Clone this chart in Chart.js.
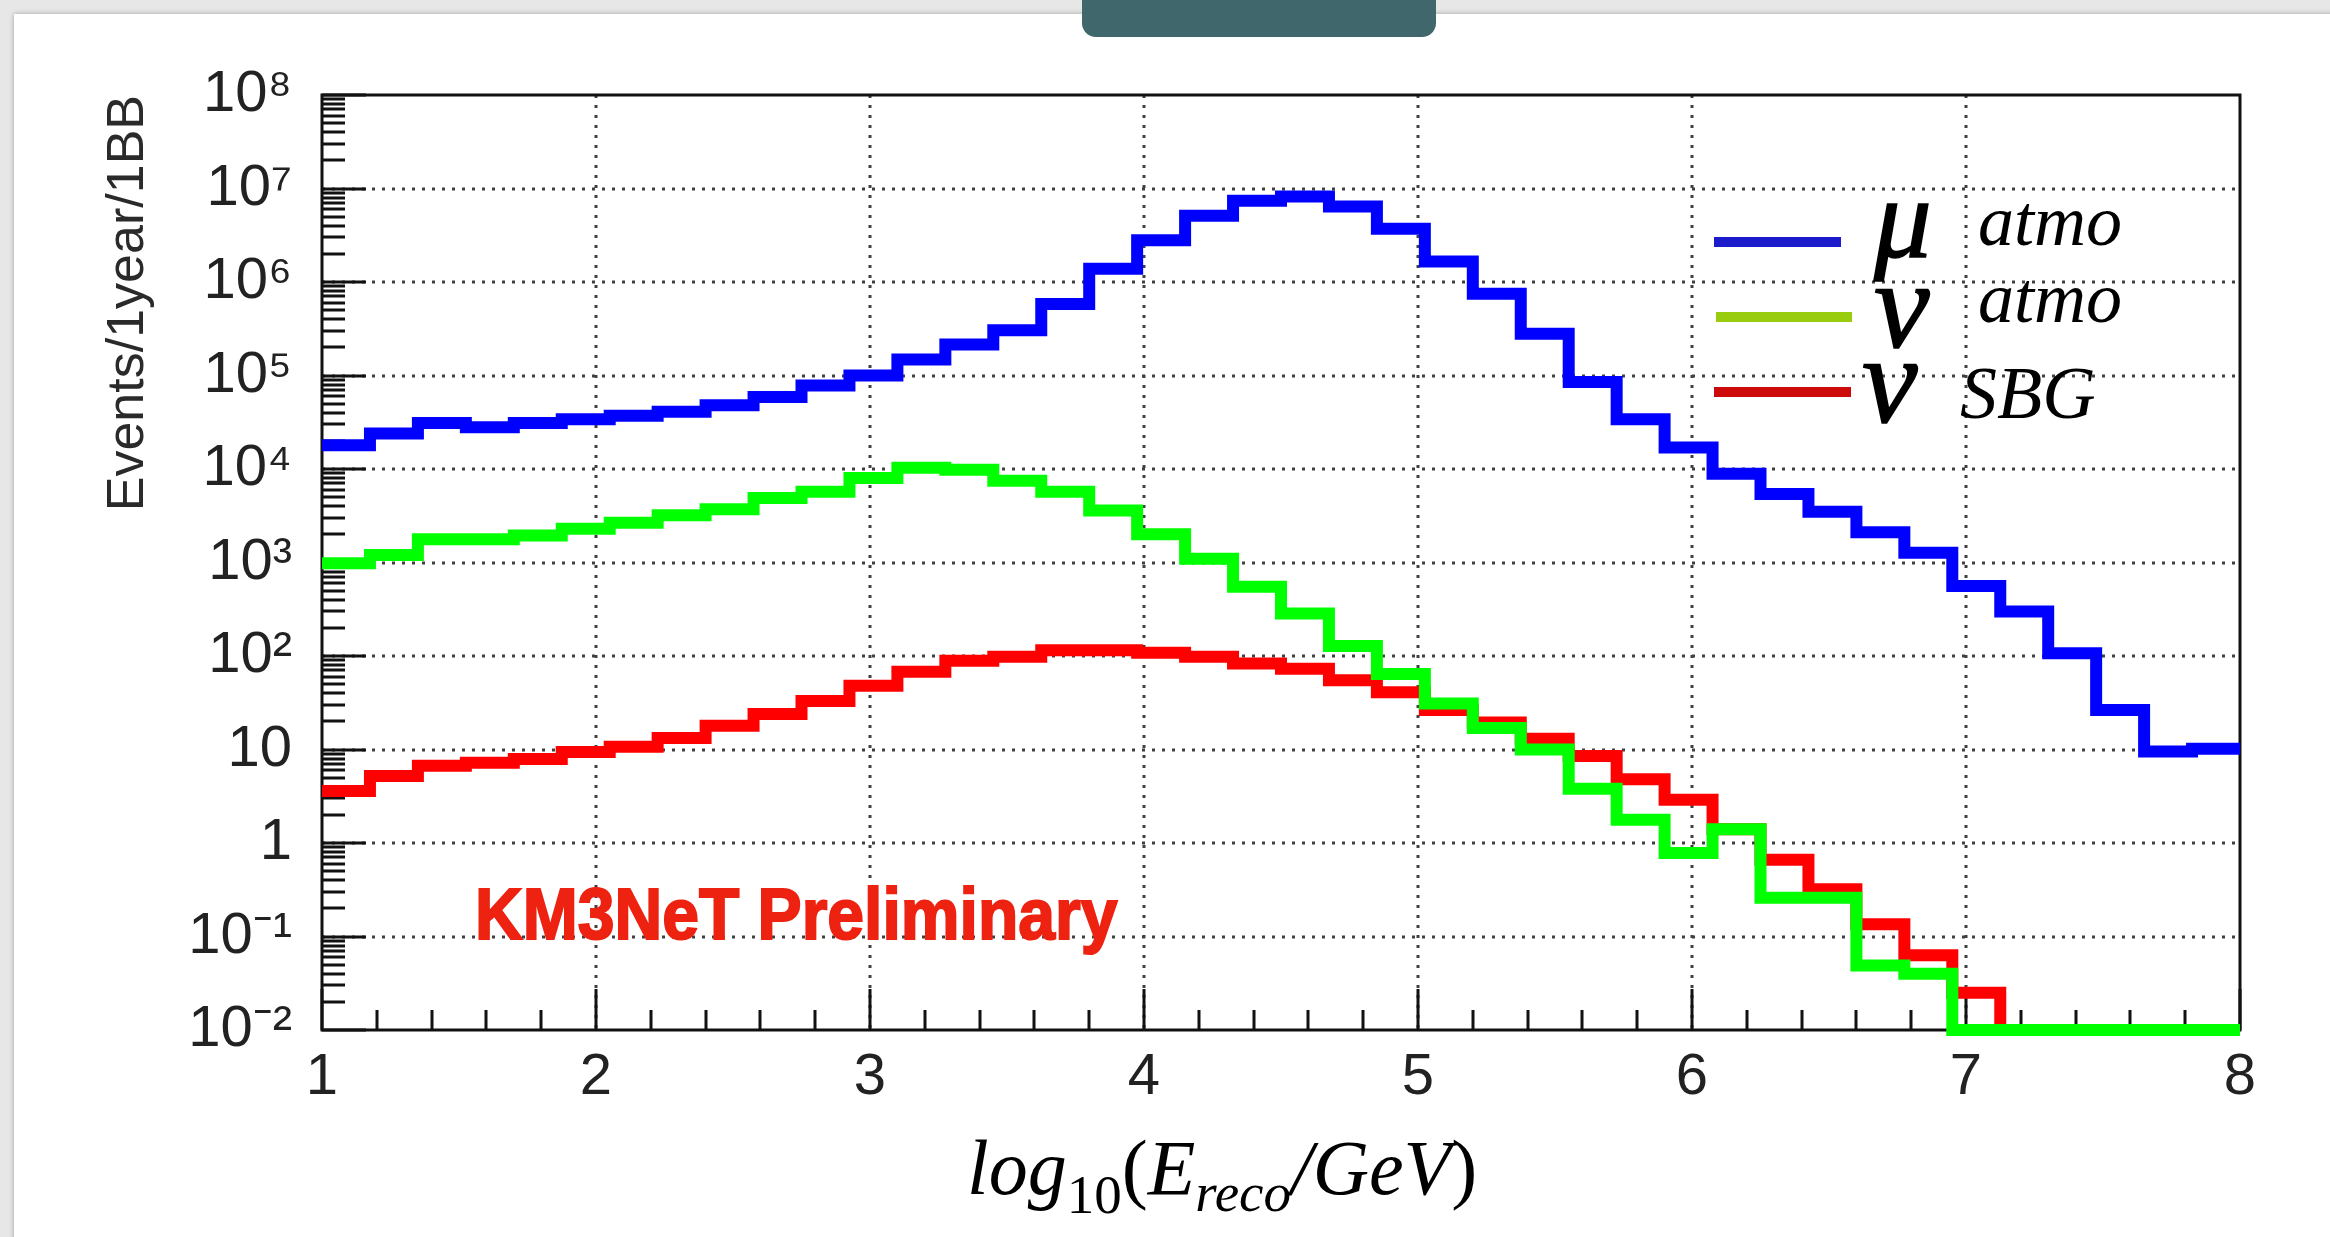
<!DOCTYPE html>
<html>
<head>
<meta charset="utf-8">
<script src="https://cdn.jsdelivr.net/npm/chart.js@4.4.1/dist/chart.umd.min.js"></script>
<style>
  html, body { margin: 0; padding: 0; }
  body { width: 2330px; height: 1237px; background: #e7e7e7; position: relative; overflow: hidden; }
  #card { position: absolute; left: 14px; top: 14px; right: -20px; bottom: -20px; background: #fff; box-shadow: 0 0 5px rgba(0,0,0,0.3); }
  #tab { position: absolute; left: 1082px; top: -8px; width: 354px; height: 45px; background: #40676c; border-radius: 0 0 14px 14px; }
  #chart { position: absolute; left: 0; top: 0; }
  #overlay { position: absolute; left: 0; top: 0; }
</style>
</head>
<body>
<div id="card"></div>
<div id="tab"></div>
<canvas id="chart" width="2330" height="1237"></canvas>
<svg id="overlay" width="2330" height="1237" xmlns="http://www.w3.org/2000/svg">
  <!-- legend -->
  <rect x="1714" y="237" width="127" height="10" fill="#1c1ccc"/>
  <rect x="1716" y="312" width="136" height="10" fill="#99cc0e"/>
  <rect x="1714" y="387" width="137" height="10" fill="#cc0a0a"/>
  <g font-family="Liberation Serif, DejaVu Serif, serif" font-style="italic" fill="#000">
    <text x="1874" y="257" font-size="115" stroke="#000" stroke-width="1.5">μ</text>
    <text x="1978" y="245" font-size="72">atmo</text>
    <text x="1874" y="347" font-size="125" stroke="#000" stroke-width="1.5">ν</text>
    <text x="1978" y="322" font-size="72">atmo</text>
    <text x="1862" y="422" font-size="125" stroke="#000" stroke-width="1.5">ν</text>
    <text x="1960" y="418" font-size="74">SBG</text>
  </g>
  <text transform="translate(475,939) scale(0.905,1)" font-family="Liberation Sans, Arial, sans-serif" font-weight="bold" font-size="73" fill="#ee2211" stroke="#ee2211" stroke-width="2">KM3NeT Preliminary</text>
  <!-- x axis title -->
  <text x="967" y="1194" font-family="Liberation Serif, DejaVu Serif, serif" font-size="78" fill="#000"><tspan font-style="italic">log</tspan><tspan font-size="55" dy="19">10</tspan><tspan dy="-19">(</tspan><tspan font-style="italic">E</tspan><tspan font-style="italic" font-size="55" dy="17">reco</tspan><tspan font-style="italic" dy="-17">/GeV</tspan><tspan>)</tspan></text>
</svg>

<script>
// bin edges in log10(E/GeV), 40 bins
const binEdges = [1, 1.175, 1.35, 1.525, 1.7, 1.875, 2.05, 2.225, 2.4, 2.575,
  2.75, 2.925, 3.1, 3.275, 3.45, 3.625, 3.8, 3.975, 4.15, 4.325,
  4.5, 4.675, 4.85, 5.025, 5.2, 5.375, 5.55, 5.725, 5.9, 6.075,
  6.25, 6.425, 6.6, 6.775, 6.95, 7.125, 7.3, 7.475, 7.65, 7.825, 8];

// events per bin
const muAtmo = [1.8e4, 2.4e4, 3.1e4, 2.8e4, 3.1e4, 3.4e4, 3.7e4, 4.1e4, 4.8e4, 5.9e4,
  7.8e4, 1.0e5, 1.48e5, 2.15e5, 3.05e5, 5.8e5, 1.39e6, 2.8e6, 5.1e6, 7.4e6,
  8.2e6, 6.4e6, 3.7e6, 1.66e6, 7.5e5, 2.8e5, 8.5e4, 3.4e4, 1.7e4, 8.9e3,
  5.4e3, 3.5e3, 2.1e3, 1.27e3, 560, 300, 107, 26.5, 9.5, 10.2];
const nuAtmo = [980, 1200, 1770, 1770, 1950, 2300, 2660, 3200, 3700, 4900,
  5700, 8000, 10300, 9800, 7500, 5700, 3600, 2000, 1100, 550,
  285, 128, 64, 31, 17, 10, 3.8, 1.77, 0.78, 1.4,
  0.26, 0.26, 0.049, 0.04, 0.01, 0.01, 0.01, 0.01, 0.01, 0.01];
const nuSBG = [3.6, 5.2, 6.7, 7.2, 7.9, 9.4, 10.7, 13.3, 18, 24,
  33, 48, 68, 89, 98, 115, 115, 108, 98, 83,
  73, 55, 41, 26.5, 19.5, 13, 8.5, 4.8, 2.9, 1.4,
  0.66, 0.32, 0.135, 0.063, 0.025, 0.01, 0.01, 0.01, 0.01, 0.01];

const xTickValues = [1, 2, 3, 4, 5, 6, 7, 8];
const xTickLabels = ['1', '2', '3', '4', '5', '6', '7', '8'];
const yTickValues = [1e-2, 1e-1, 1, 10, 1e2, 1e3, 1e4, 1e5, 1e6, 1e7, 1e8];
const yTickLabels = ['10⁻²', '10⁻¹', '1', '10', '10²', '10³', '10⁴', '10⁵', '10⁶', '10⁷', '10⁸'];

// histogram -> step points (one per lower edge, plus the closing edge)
function histPoints(vals) {
  const pts = vals.map((v, i) => ({ x: binEdges[i], y: v }));
  pts.push({ x: binEdges[vals.length], y: vals[vals.length - 1] });
  return pts;
}

// ROOT style frame, dotted grid and inward ticks
const rootFrame = {
  id: 'rootFrame',
  beforeDatasetsDraw(chart) {
    const { ctx, chartArea: a, scales: { x, y } } = chart;
    ctx.save();
    // dotted grid
    ctx.strokeStyle = 'rgba(30,30,30,0.85)';
    ctx.lineWidth = 3;
    ctx.setLineDash([3, 7]);
    ctx.beginPath();
    xTickValues.slice(1, -1).forEach(v => {
      const p = Math.round(x.getPixelForValue(v));
      ctx.moveTo(p, a.top); ctx.lineTo(p, a.bottom);
    });
    yTickValues.slice(1, -1).forEach(v => {
      const p = Math.round(y.getPixelForValue(v));
      ctx.moveTo(a.left, p); ctx.lineTo(a.right, p);
    });
    ctx.stroke();
    ctx.setLineDash([]);

    // ticks
    ctx.strokeStyle = '#111';
    ctx.lineWidth = 3;
    ctx.beginPath();
    for (let k = -2; k < 8; k++) {
      for (let m = 2; m <= 9; m++) {
        const p = Math.round(y.getPixelForValue(m * Math.pow(10, k)));
        ctx.moveTo(a.left, p); ctx.lineTo(a.left + 23, p);
      }
    }
    yTickValues.forEach(v => {
      const p = Math.round(y.getPixelForValue(v));
      ctx.moveTo(a.left, p); ctx.lineTo(a.left + 44, p);
    });
    for (let v = 1; v < 8; v += 0.2) {
      const p = Math.round(x.getPixelForValue(v));
      ctx.moveTo(p, a.bottom); ctx.lineTo(p, a.bottom - 20);
    }
    xTickValues.forEach(v => {
      const p = Math.round(x.getPixelForValue(v));
      ctx.moveTo(p, a.bottom); ctx.lineTo(p, a.bottom - 41);
    });
    ctx.stroke();

    // frame
    ctx.lineWidth = 3;
    ctx.strokeRect(a.left, a.top, a.right - a.left, a.bottom - a.top);
    ctx.restore();
  }
};

const lineStyle = {
  borderWidth: 12,
  stepped: true,
  pointRadius: 0,
  fill: false,
  clip: 12,
  borderJoinStyle: 'miter',
  borderCapStyle: 'butt'
};

const chartData = {
  datasets: [
    { label: 'nu atmo', data: histPoints(nuAtmo), borderColor: '#00ff00', order: 1, ...lineStyle },
    { label: 'nu SBG', data: histPoints(nuSBG), borderColor: '#ff0000', order: 2, ...lineStyle },
    { label: 'mu atmo', data: histPoints(muAtmo), borderColor: '#0000ff', order: 3, ...lineStyle }
  ]
};

const config = {
  type: 'line',
  data: chartData,
  options: {
    responsive: false,
    animation: false,
    devicePixelRatio: 1,
    layout: { padding: { top: 95, right: 90, left: 0, bottom: 0 } },
    plugins: {
      legend: { display: false },
      tooltip: { enabled: false }
    },
    scales: {
      x: {
        type: 'linear',
        min: 1,
        max: 8,
        grid: { display: false },
        border: { display: false },
        afterBuildTicks: (scale) => { scale.ticks = xTickValues.map(v => ({ value: v })); },
        afterFit: (scale) => { scale.height = 207; },
        ticks: {
          autoSkip: false,
          maxRotation: 0,
          padding: 5,
          color: '#222',
          font: { family: 'Liberation Sans, Arial, sans-serif', size: 58 },
          callback: (value, index) => xTickLabels[index]
        }
      },
      y: {
        type: 'logarithmic',
        min: 1e-2,
        max: 1e8,
        grid: { display: false },
        border: { display: false },
        afterBuildTicks: (scale) => { scale.ticks = yTickValues.map(v => ({ value: v })); },
        afterFit: (scale) => { scale.width = 322; },
        ticks: {
          autoSkip: false,
          padding: 22,
          color: '#222',
          font: { family: 'Liberation Sans, Arial, sans-serif', size: 58 },
          callback: (value, index) => yTickLabels[index]
        },
        title: {
          display: true,
          text: 'Events/1year/1BB',
          align: 'end',
          color: '#2a2a2a',
          padding: { top: 97, bottom: 0 },
          font: { family: 'Liberation Sans, Arial, sans-serif', size: 52 }
        }
      }
    }
  },
  plugins: [rootFrame]
};

const myChart = new Chart(document.getElementById('chart'), config);
</script>
</body>
</html>
